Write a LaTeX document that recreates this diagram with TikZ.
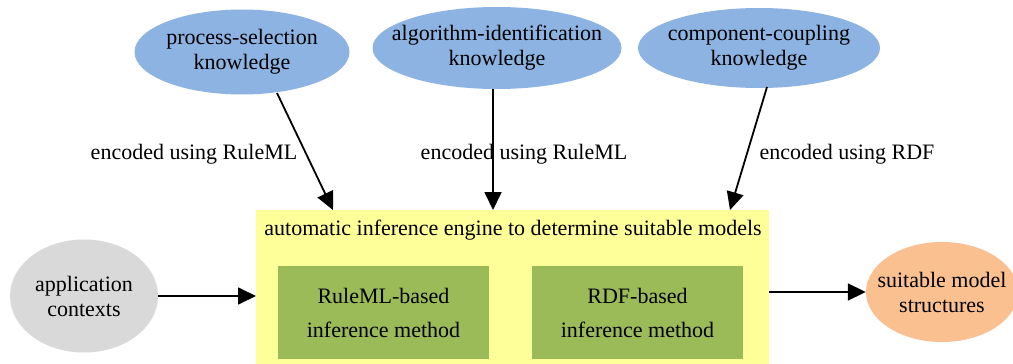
\documentclass[tikz,border=0pt]{standalone}
\usepackage{fontspec}
\setmainfont{Liberation Serif}
\usetikzlibrary{shapes.geometric,arrows.meta}
\definecolor{kblue}{HTML}{8DB3E2}
\definecolor{eyellow}{HTML}{FFFF99}
\definecolor{mgreen}{HTML}{9BBB59}
\definecolor{cgray}{HTML}{D9D9D9}
\definecolor{rorange}{HTML}{FAC090}
\tikzset{
  txt/.style={align=center, inner sep=0pt, font=\fontsize{22}{25}\selectfont},
  oval/.style 2 args={ellipse, inner sep=0pt, minimum width=#1, minimum height=#2},
  know/.style={fill=kblue},
  method/.style={rectangle, fill=mgreen, inner sep=0pt, align=center, font=\fontsize{22}{34}\selectfont, minimum width=211pt, minimum height=93pt},
  flow/.style={line width=1.8pt, -{Triangle[length=18pt,width=17pt]}},
  lbl/.style={font=\fontsize{22}{25}\selectfont, inner sep=0pt},
}
\begin{document}
\begin{tikzpicture}[x=1pt,y=-1pt]
  \useasboundingbox (0,0) rectangle (1013,364);
  \fill[white] (0,0) rectangle (1013,364);

  % knowledge sources (text set as centre labels so the ovals keep their size)
  \node[oval={215pt}{85pt}, know, label={[txt]center:process-selection\\knowledge}] (ps) at (242,52) {};
  \node[oval={249pt}{82pt}, know, label={[txt]center:algorithm-identification\\knowledge}] (ai) at (497,48) {};
  \node[oval={242pt}{80pt}, know, label={[txt]center:component-coupling\\knowledge}] (cc) at (759,48) {};

  % inference engine
  \node[rectangle, fill=eyellow, inner sep=0pt, minimum width=513pt, minimum height=154pt, anchor=north west] (eng) at (256,210) {};
  \node[lbl] (title) at (513,230) {automatic inference engine to determine suitable models};
  \node[method] (rm) at (383.5,312.5) {RuleML-based\\inference method};
  \node[method] (rdf) at (637.5,312.5) {RDF-based\\inference method};

  % inputs and outputs
  \node[oval={148pt}{113pt}, fill=cgray, label={[txt]center:application\\contexts}] (app) at (84,296) {};
  \node[oval={152pt}{100pt}, fill=rorange, label={[txt]center:suitable model\\structures}] (out) at (942,292) {};

  % connectors
  \coordinate (e1) at (333,210);
  \coordinate (e2) at (493,210);
  \coordinate (e3) at (730,210);
  \draw[flow] (277,93) -- (e1);
  \draw[flow] (493,89) -- (e2);
  \draw[flow] (767,87) -- (e3);
  \draw[flow] (app.east) -- (eng.west |- app.east);
  \draw[flow] (eng.east |- out.west) -- (out.west);

  % edge labels
  \node[lbl] (l1) at (194,154) {encoded using RuleML};
  \node[lbl] (l2) at (524,154) {encoded using RuleML};
  \node[lbl] (l3) at (847,154) {encoded using RDF};
\end{tikzpicture}
\end{document}
